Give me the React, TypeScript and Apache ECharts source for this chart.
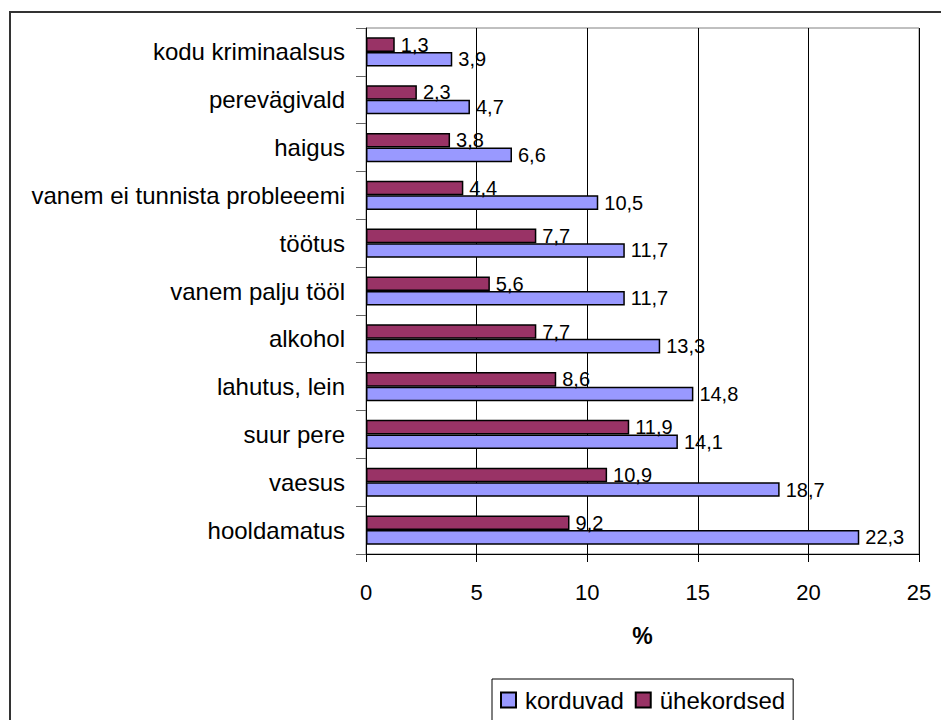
import React, { useEffect, useRef } from "react";
import * as echarts from "echarts";

// bottom-to-top order as drawn on the category axis
const categories = [
  "hooldamatus",
  "vaesus",
  "suur pere",
  "lahutus, lein",
  "alkohol",
  "vanem palju tööl",
  "töötus",
  "vanem ei tunnista probleeemi",
  "haigus",
  "perevägivald",
  "kodu kriminaalsus",
];
const korduvad = [22.3, 18.7, 14.1, 14.8, 13.3, 11.7, 11.7, 10.5, 6.6, 4.7, 3.9];
const uhekordsed = [9.2, 10.9, 11.9, 8.6, 7.7, 5.6, 7.7, 4.4, 3.8, 2.3, 1.3];
const seriesNames = ["korduvad", "ühekordsed"];
const axisName = "%";

const FONT = "'Liberation Sans', Arial, sans-serif";

export default function App() {
  const ref = useRef<HTMLDivElement>(null);
  useEffect(() => {
    if (!ref.current) return;
    const chart = echarts.init(ref.current, undefined, { renderer: "svg" });
    const fmt = (p: any) => String(p.value).replace(".", ",");
    const label = {
      show: true,
      position: "right",
      distance: 6,
      color: "#000",
      fontSize: 20,
      fontFamily: FONT,
      formatter: fmt,
    };
    chart.setOption({
      animation: false,
      backgroundColor: "#fff",
      textStyle: { fontFamily: FONT, color: "#000" },
      graphic: [
        {
          type: "rect",
          shape: { x: 10, y: 12, width: 1000, height: 1000 },
          style: { fill: "none", stroke: "#333", lineWidth: 2 },
          silent: true,
        },
      ],
      grid: {
        left: 366,
        right: 22,
        top: 28,
        bottom: 166,
        show: true,
        borderColor: "#808080",
        borderWidth: 1,
        backgroundColor: "transparent",
      },
      legend: {
        data: seriesNames,
        left: 492,
        top: 679,
        padding: [9, 8, 9, 8],
        itemWidth: 15,
        itemHeight: 15,
        itemGap: 11,
        borderColor: "#000",
        borderWidth: 1,
        backgroundColor: "#fff",
        icon: "rect",
        textStyle: { fontSize: 24, fontFamily: FONT, color: "#000", padding: [0, 0, 0, 4] },
      },
      xAxis: {
        type: "value",
        min: 0,
        max: 25,
        interval: 5,
        name: axisName,
        nameLocation: "middle",
        nameGap: 70,
        nameTextStyle: { fontSize: 23, fontWeight: "bold", fontFamily: FONT, color: "#000" },
        axisLine: { show: true, lineStyle: { color: "#000", width: 1 } },
        axisTick: { show: true, length: 8, lineStyle: { color: "#000" } },
        axisLabel: { fontSize: 22, fontFamily: FONT, color: "#000", margin: 27 },
        splitLine: { show: true, lineStyle: { color: "#000", width: 1 } },
      },
      yAxis: {
        type: "category",
        data: categories,
        axisLine: { show: true, lineStyle: { color: "#000", width: 1 } },
        axisTick: { show: true, length: 10, lineStyle: { color: "#666" } },
        axisLabel: { fontSize: 24, fontFamily: FONT, color: "#000", margin: 21 },
      },
      series: [
        {
          name: seriesNames[1],
          type: "bar",
          data: uhekordsed,
          barGap: "0%",
          barCategoryGap: "39%",
          itemStyle: { color: "#993366", borderColor: "#000", borderWidth: 1.5 },
          label,
        },
        {
          name: seriesNames[0],
          type: "bar",
          data: korduvad,
          barGap: "0%",
          barCategoryGap: "39%",
          itemStyle: { color: "#9999FF", borderColor: "#000", borderWidth: 1.5 },
          label,
        },
      ],
    });
    return () => chart.dispose();
  }, []);
  return (
    <div
      ref={ref}
      style={{ position: "absolute", left: 0, top: 0, width: 941, height: 720 }}
    />
  );
}
